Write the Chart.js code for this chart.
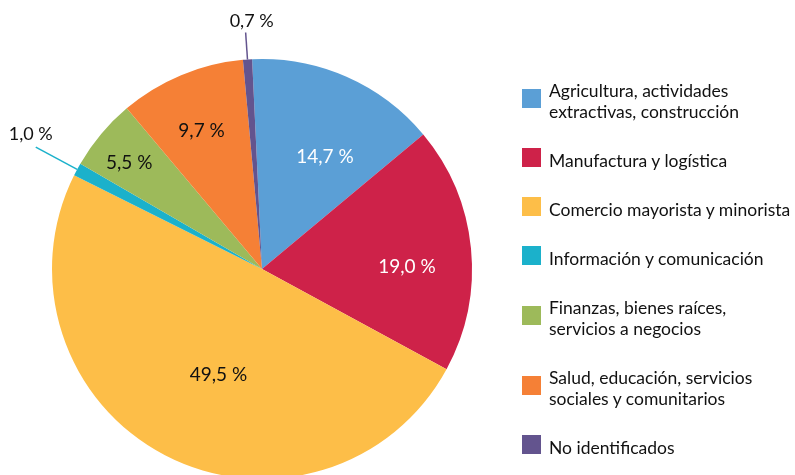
<!DOCTYPE html>
<html>
<head>
<meta charset="utf-8">
<script src="https://cdn.jsdelivr.net/npm/chart.js@4"></script>
<style>
    html, body { margin: 0; padding: 0; background: #fff; overflow: hidden; }
    #wrap { position: relative; width: 795px; height: 475px; overflow: hidden; }
    #wrap canvas { position: absolute; left: 0; top: 0; }
    #legend {
        position: absolute; left: 522px; top: 80px;
        display: flex; flex-direction: column; gap: 28px;
        font-family: Lato, 'Open Sans', sans-serif; font-size: 17.5px; line-height: 21px; color: #111;
    }
    .item { display: flex; align-items: center; }
    .box { width: 19px; height: 19px; margin-right: 8px; flex: none; transform: translateY(-3px); }
</style>
</head>
<body>
<div id="wrap">
    <canvas id="pie" width="795" height="480"></canvas>
    <div id="legend"></div>
</div>
<script>
const categories = [
    ['Agricultura, actividades', 'extractivas, construcción'],
    ['Manufactura y logística'],
    ['Comercio mayorista y minorista'],
    ['Información y comunicación'],
    ['Finanzas, bienes raíces,', 'servicios a negocios'],
    ['Salud, educación, servicios', 'sociales y comunitarios'],
    ['No identificados']
];
const shares = [14.7, 19.0, 49.5, 1.0, 5.5, 9.7, 0.7];

const colors = ['#5B9FD6', '#CE2249', '#FDBE48', '#1BB1CB', '#9DBA5A', '#F58036', '#63548E'];
const labelColors = ['#fff', '#fff', '#111', '#111', '#111', '#111', '#111'];
// label placement: share of the radius and a small turn off the slice middle (degrees)
const labelRadius = [0.612, 0.69, 0.547, 0, 0.81, 0.72, 0];
const labelTurn = [5.6, 4.8, -5.2, 0, -1.3, -0.9, 0];
// tiny slices get a leader line and a label outside
const leaderLength = [0, 0, 0, 47, 0, 0, 27];
const outsideNudge = [null, null, null, [-5, -13], null, null, [6, -11]];

function fmt(v) {
    return v.toFixed(1).replace('.', ',') + ' %';
}

const sliceLabels = {
    id: 'sliceLabels',
    afterDatasetsDraw(chart) {
        const ctx = chart.ctx;
        const meta = chart.getDatasetMeta(0);
        ctx.save();
        ctx.textAlign = 'center';
        ctx.textBaseline = 'middle';
        meta.data.forEach((arc, i) => {
            const mid = (arc.startAngle + arc.endAngle) / 2;
            const r = arc.outerRadius;
            if (leaderLength[i] > 0) {
                const x1 = arc.x + Math.cos(mid) * r;
                const y1 = arc.y + Math.sin(mid) * r;
                const x2 = arc.x + Math.cos(mid) * (r + leaderLength[i]);
                const y2 = arc.y + Math.sin(mid) * (r + leaderLength[i]);
                ctx.strokeStyle = colors[i];
                ctx.lineWidth = 1.5;
                ctx.beginPath();
                ctx.moveTo(x1, y1);
                ctx.lineTo(x2, y2);
                ctx.stroke();
                ctx.font = '18px Lato, "Open Sans", sans-serif';
                ctx.fillStyle = labelColors[i];
                ctx.fillText(fmt(shares[i]), x2 + outsideNudge[i][0], y2 + outsideNudge[i][1]);
            } else {
                const a = mid + labelTurn[i] * Math.PI / 180;
                const d = r * labelRadius[i];
                ctx.font = '19px Lato, "Open Sans", sans-serif';
                ctx.fillStyle = labelColors[i];
                ctx.fillText(fmt(shares[i]), arc.x + Math.cos(a) * d, arc.y + Math.sin(a) * d);
            }
        });
        ctx.restore();
    }
};

new Chart(document.getElementById('pie'), {
    type: 'pie',
    data: {
        labels: categories.map(c => c.join(' ')),
        datasets: [{
            data: shares,
            backgroundColor: colors,
            borderWidth: 0,
            hoverOffset: 0,
            offset: 0
        }]
    },
    options: {
        responsive: false,
        animation: false,
        rotation: -2.7,
        layout: { padding: { left: 52, right: 323, top: 59, bottom: 1 } },
        plugins: {
            legend: { display: false },
            tooltip: { enabled: false }
        }
    },
    plugins: [sliceLabels]
});

const legend = document.getElementById('legend');
categories.forEach((lines, i) => {
    const item = document.createElement('div');
    item.className = 'item';
    const box = document.createElement('div');
    box.className = 'box';
    box.style.background = colors[i];
    const text = document.createElement('div');
    text.innerHTML = lines.join('<br>');
    item.appendChild(box);
    item.appendChild(text);
    legend.appendChild(item);
});
</script>
</body>
</html>
